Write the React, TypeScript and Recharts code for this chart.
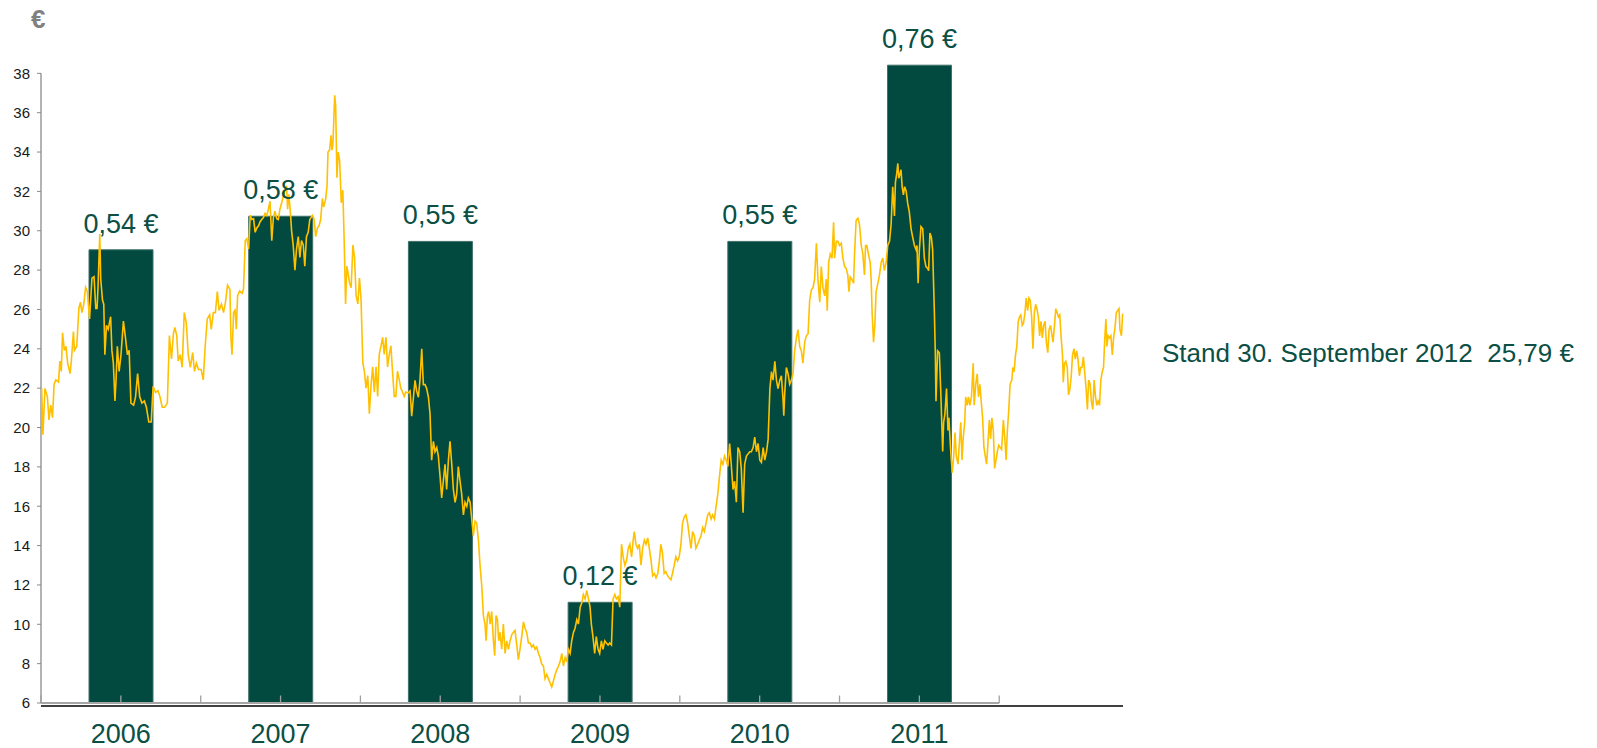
import React from "react";
import {
  ComposedChart,
  Bar,
  Line,
  XAxis,
  YAxis,
  ReferenceLine,
  LabelList,
} from "recharts";

// dividend per share, one bar per business year
const years = ["2006", "2007", "2008", "2009", "2010", "2011"];
const dividends = [0.54, 0.58, 0.55, 0.12, 0.55, 0.76];

const priceTicks = [6, 8, 10, 12, 14, 16, 18, 20, 22, 24, 26, 28, 30, 32, 34, 36, 38];

// share price [decimal year, €]
const price2006: [number, number][] = [
  [2006.004, 22.0], [2006.012, 19.64], [2006.025, 21.99], [2006.04, 21.56], [2006.05, 20.39],
  [2006.061, 21.14], [2006.072, 20.5], [2006.082, 22.2], [2006.093, 22.42], [2006.11, 22.31],
  [2006.118, 23.38], [2006.127, 22.85], [2006.135, 24.81], [2006.146, 23.92], [2006.156, 24.13],
  [2006.167, 23.27], [2006.182, 22.74], [2006.19, 23.38], [2006.203, 24.88], [2006.209, 23.92],
  [2006.224, 24.13], [2006.237, 26.05], [2006.247, 26.37], [2006.256, 25.84], [2006.268, 26.27],
  [2006.279, 27.12], [2006.29, 26.91], [2006.304, 25.52], [2006.319, 27.59], [2006.332, 27.66],
  [2006.343, 26.05], [2006.351, 26.05], [2006.357, 27.12], [2006.368, 29.84], [2006.374, 27.55],
  [2006.385, 26.48], [2006.393, 26.27], [2006.4, 23.7], [2006.41, 25.2], [2006.421, 24.99],
  [2006.436, 25.63], [2006.444, 23.92], [2006.453, 23.27], [2006.463, 21.35], [2006.47, 22.42],
  [2006.478, 24.13], [2006.489, 22.85], [2006.501, 23.7], [2006.516, 25.41], [2006.529, 24.56],
  [2006.541, 23.7], [2006.552, 23.92], [2006.563, 21.24], [2006.58, 21.14], [2006.592, 21.56],
  [2006.605, 22.74], [2006.618, 21.56], [2006.632, 21.24], [2006.647, 21.35], [2006.66, 21.03],
  [2006.675, 20.28], [2006.69, 20.28], [2006.702, 22.1], [2006.717, 21.78], [2006.732, 21.88],
  [2006.745, 21.56], [2006.759, 21.03], [2006.774, 21.03], [2006.791, 21.24], [2006.804, 24.67],
  [2006.817, 23.49], [2006.829, 24.77], [2006.838, 25.09], [2006.85, 24.67], [2006.859, 23.38],
  [2006.872, 23.7], [2006.884, 23.06], [2006.897, 25.84], [2006.91, 25.31], [2006.922, 23.7],
  [2006.935, 23.06], [2006.95, 23.81], [2006.961, 22.85], [2006.973, 23.27], [2006.986, 22.95],
];

const price2007: [number, number][] = [
  [2007.003, 22.95], [2007.016, 22.42], [2007.028, 24.13], [2007.041, 25.52], [2007.056, 25.73],
  [2007.066, 24.99], [2007.079, 25.84], [2007.092, 25.84], [2007.104, 26.91], [2007.115, 25.95],
  [2007.13, 26.27], [2007.143, 25.84], [2007.155, 26.37], [2007.168, 27.23], [2007.183, 27.02],
  [2007.189, 24.6], [2007.196, 23.7], [2007.206, 25.86], [2007.215, 25.97], [2007.223, 25.0],
  [2007.231, 26.7], [2007.244, 26.93], [2007.26, 26.82], [2007.268, 27.04], [2007.279, 29.5],
  [2007.289, 29.6], [2007.3, 29.07], [2007.31, 30.78], [2007.32, 30.57], [2007.331, 30.61],
  [2007.341, 29.92], [2007.351, 30.14], [2007.362, 30.25], [2007.372, 30.46], [2007.382, 30.57],
  [2007.393, 30.67], [2007.403, 30.89], [2007.414, 30.78], [2007.424, 31.1], [2007.434, 31.5],
  [2007.445, 29.5], [2007.455, 30.67], [2007.465, 31.0], [2007.476, 30.61], [2007.486, 30.57],
  [2007.496, 31.1], [2007.507, 31.42], [2007.517, 31.74], [2007.528, 32.06], [2007.538, 32.28],
  [2007.544, 31.1], [2007.552, 31.85], [2007.563, 30.78], [2007.569, 30.0], [2007.579, 29.28],
  [2007.59, 28.0], [2007.6, 29.07], [2007.611, 29.7], [2007.621, 28.64], [2007.631, 29.5],
  [2007.642, 29.28], [2007.652, 28.2], [2007.662, 29.7], [2007.673, 29.92], [2007.683, 30.57],
  [2007.7, 30.78], [2007.71, 30.57], [2007.72, 29.7], [2007.731, 30.14], [2007.741, 30.25],
  [2007.751, 30.57], [2007.762, 31.64], [2007.77, 31.21], [2007.783, 31.64], [2007.791, 32.28],
  [2007.797, 34.0], [2007.807, 34.1], [2007.816, 34.85], [2007.822, 34.1], [2007.828, 34.42],
  [2007.839, 36.88], [2007.845, 36.35], [2007.853, 32.7], [2007.861, 34.0], [2007.87, 33.56],
  [2007.88, 31.42], [2007.89, 32.06], [2007.899, 29.28], [2007.907, 26.28], [2007.915, 28.2],
  [2007.924, 27.77], [2007.932, 27.36], [2007.942, 27.1], [2007.953, 29.28], [2007.963, 28.64],
  [2007.973, 26.7], [2007.984, 26.28], [2007.994, 27.6],
];

const price2008: [number, number][] = [
  [2008.004, 26.5], [2008.015, 23.3], [2008.025, 22.86], [2008.035, 22.0], [2008.046, 22.64],
  [2008.056, 20.7], [2008.067, 22.2], [2008.077, 23.08], [2008.087, 21.8], [2008.098, 23.08],
  [2008.108, 21.58], [2008.118, 23.72], [2008.129, 24.15], [2008.139, 24.58], [2008.149, 23.72],
  [2008.16, 24.58], [2008.17, 23.08], [2008.181, 23.72], [2008.191, 24.15], [2008.201, 22.86],
  [2008.212, 21.58], [2008.222, 21.58], [2008.232, 22.86], [2008.243, 22.43], [2008.253, 22.0],
  [2008.264, 21.8], [2008.274, 21.58], [2008.284, 21.8], [2008.3, 21.76], [2008.311, 21.86],
  [2008.321, 20.58], [2008.332, 21.54], [2008.342, 22.4], [2008.352, 21.86], [2008.363, 21.54],
  [2008.373, 22.4], [2008.384, 24.0], [2008.394, 22.18], [2008.405, 22.18], [2008.415, 21.97],
  [2008.426, 21.54], [2008.436, 20.69], [2008.446, 18.34], [2008.457, 19.3], [2008.467, 18.77],
  [2008.478, 18.98], [2008.488, 18.55], [2008.499, 17.49], [2008.509, 16.42], [2008.519, 17.27],
  [2008.53, 18.13], [2008.54, 16.85], [2008.551, 18.34], [2008.561, 19.3], [2008.572, 18.13],
  [2008.582, 16.85], [2008.593, 16.2], [2008.603, 16.63], [2008.613, 18.02], [2008.624, 17.27],
  [2008.634, 16.63], [2008.645, 15.56], [2008.655, 16.2], [2008.666, 15.99], [2008.676, 16.42],
  [2008.687, 16.2], [2008.697, 15.35], [2008.707, 14.5], [2008.718, 15.25], [2008.728, 15.14],
  [2008.739, 14.28], [2008.749, 13.0], [2008.76, 11.94], [2008.77, 10.44], [2008.78, 10.01],
  [2008.787, 9.16], [2008.795, 10.44], [2008.803, 10.65], [2008.812, 10.01], [2008.822, 10.65],
  [2008.833, 9.16], [2008.841, 8.41], [2008.849, 10.44], [2008.858, 10.23], [2008.866, 9.16],
  [2008.874, 9.59], [2008.885, 8.73], [2008.895, 10.01], [2008.906, 8.52], [2008.916, 9.16],
  [2008.927, 8.73], [2008.937, 9.16], [2008.948, 9.48], [2008.958, 9.59], [2008.968, 9.69],
  [2008.979, 8.95], [2008.989, 8.2], [2008.999, 8.73],
];

const price2009: [number, number][] = [
  [2009.01, 9.37], [2009.021, 10.12], [2009.031, 9.8], [2009.041, 9.59], [2009.052, 9.05],
  [2009.062, 9.05], [2009.073, 8.84], [2009.083, 8.95], [2009.094, 8.73], [2009.104, 8.84],
  [2009.115, 8.52], [2009.125, 8.31], [2009.135, 7.99], [2009.146, 7.88], [2009.156, 7.24],
  [2009.167, 7.45], [2009.177, 7.24], [2009.188, 7.02], [2009.198, 6.81], [2009.209, 7.13],
  [2009.219, 7.45], [2009.229, 7.67], [2009.24, 7.88], [2009.25, 8.09], [2009.261, 8.52],
  [2009.271, 7.88], [2009.282, 8.31], [2009.292, 8.09], [2009.302, 8.73], [2009.313, 8.52],
  [2009.323, 9.16], [2009.334, 9.59], [2009.344, 9.8], [2009.355, 10.23], [2009.365, 10.01],
  [2009.376, 10.87], [2009.386, 11.08], [2009.396, 11.51], [2009.407, 11.29], [2009.417, 11.72],
  [2009.428, 11.29], [2009.438, 10.87], [2009.446, 10.01], [2009.456, 9.37], [2009.467, 8.52],
  [2009.477, 9.37], [2009.488, 8.73], [2009.498, 8.52], [2009.509, 9.16], [2009.519, 8.73],
  [2009.53, 9.16], [2009.54, 9.05], [2009.551, 8.95], [2009.561, 9.05], [2009.572, 8.95],
  [2009.582, 11.29], [2009.593, 11.51], [2009.603, 11.29], [2009.614, 11.4], [2009.624, 10.87],
  [2009.635, 14.07], [2009.645, 13.43], [2009.656, 13.0], [2009.666, 13.22], [2009.677, 13.86],
  [2009.687, 14.07], [2009.698, 13.43], [2009.708, 14.28], [2009.715, 14.71], [2009.725, 14.07],
  [2009.736, 13.86], [2009.746, 14.07], [2009.757, 13.0], [2009.767, 13.86], [2009.778, 14.28],
  [2009.788, 14.07], [2009.799, 14.39], [2009.809, 13.86], [2009.82, 13.22], [2009.83, 12.47],
  [2009.841, 12.58], [2009.851, 12.36], [2009.862, 12.58], [2009.872, 13.22], [2009.881, 14.07],
  [2009.891, 13.64], [2009.902, 12.58], [2009.912, 12.68], [2009.923, 12.47], [2009.933, 12.36],
  [2009.944, 12.26], [2009.954, 12.58], [2009.965, 13.0], [2009.975, 13.43], [2009.986, 13.22],
  [2009.996, 13.43],
];

const price2010: [number, number][] = [
  [2010.007, 14.07], [2010.017, 15.14], [2010.028, 15.46], [2010.038, 15.56], [2010.049, 15.14],
  [2010.059, 14.5], [2010.07, 13.86], [2010.08, 14.71], [2010.091, 14.5], [2010.101, 13.86],
  [2010.112, 14.07], [2010.122, 14.28], [2010.133, 14.5], [2010.143, 14.92], [2010.154, 14.71],
  [2010.164, 15.14], [2010.175, 15.56], [2010.185, 15.67], [2010.196, 15.35], [2010.206, 15.56],
  [2010.217, 15.35], [2010.227, 15.99], [2010.238, 16.63], [2010.248, 17.49], [2010.259, 18.34],
  [2010.27, 18.13], [2010.28, 18.55], [2010.291, 18.34], [2010.301, 18.02], [2010.312, 19.19],
  [2010.322, 18.13], [2010.333, 16.85], [2010.343, 17.27], [2010.354, 16.2], [2010.364, 18.98],
  [2010.375, 18.77], [2010.385, 17.91], [2010.396, 15.67], [2010.406, 18.13], [2010.417, 18.55],
  [2010.427, 18.66], [2010.438, 18.77], [2010.448, 18.77], [2010.459, 18.98], [2010.469, 19.51],
  [2010.48, 18.77], [2010.49, 19.19], [2010.501, 18.34], [2010.511, 18.23], [2010.522, 18.98],
  [2010.532, 18.34], [2010.543, 18.77], [2010.553, 19.41], [2010.564, 21.97], [2010.574, 22.84],
  [2010.584, 22.41], [2010.595, 23.37], [2010.605, 22.41], [2010.615, 21.98], [2010.626, 22.41],
  [2010.636, 22.63], [2010.647, 21.34], [2010.651, 20.6], [2010.657, 21.77], [2010.667, 23.05],
  [2010.678, 22.73], [2010.688, 22.2], [2010.699, 22.41], [2010.709, 22.73], [2010.719, 23.9],
  [2010.73, 24.55], [2010.74, 24.98], [2010.751, 24.12], [2010.761, 23.9], [2010.771, 23.27],
  [2010.782, 24.34], [2010.792, 24.66], [2010.803, 24.76], [2010.813, 26.47], [2010.824, 27.0],
  [2010.834, 27.11], [2010.844, 27.54], [2010.855, 29.36], [2010.865, 27.54], [2010.876, 26.37],
  [2010.886, 28.18], [2010.896, 27.11], [2010.907, 26.69], [2010.917, 27.54], [2010.923, 25.94],
  [2010.932, 28.4], [2010.942, 28.82], [2010.953, 28.61], [2010.963, 30.43], [2010.969, 28.61],
  [2010.98, 29.46], [2010.99, 29.46],
];

const price2011: [number, number][] = [
  [2011.0, 29.25], [2011.011, 29.36], [2011.021, 28.61], [2011.032, 28.18], [2011.042, 28.08],
  [2011.052, 27.75], [2011.059, 26.9], [2011.067, 27.65], [2011.077, 27.54], [2011.088, 27.33],
  [2011.094, 28.82], [2011.104, 30.53], [2011.115, 30.64], [2011.125, 30.32], [2011.136, 29.25],
  [2011.146, 28.82], [2011.156, 27.75], [2011.163, 29.25], [2011.171, 29.25], [2011.181, 28.82],
  [2011.192, 28.4], [2011.198, 27.54], [2011.204, 25.83], [2011.213, 24.34], [2011.221, 25.19],
  [2011.229, 26.9], [2011.24, 27.33], [2011.25, 27.75], [2011.261, 28.4], [2011.271, 28.61],
  [2011.281, 27.97], [2011.292, 28.4], [2011.302, 29.25], [2011.313, 29.46], [2011.323, 30.32],
  [2011.333, 32.24], [2011.344, 30.75], [2011.35, 32.46], [2011.358, 32.89], [2011.365, 33.42],
  [2011.371, 32.67], [2011.379, 32.89], [2011.385, 33.1], [2011.392, 32.24], [2011.4, 31.82],
  [2011.408, 32.24], [2011.417, 32.03], [2011.427, 31.39], [2011.437, 30.96], [2011.448, 30.1],
  [2011.458, 29.68], [2011.469, 29.25], [2011.479, 29.04], [2011.485, 29.25], [2011.492, 27.33],
  [2011.5, 29.04], [2011.51, 30.21], [2011.521, 30.1], [2011.531, 28.61], [2011.541, 28.18],
  [2011.552, 28.08], [2011.558, 27.97], [2011.566, 29.89], [2011.575, 29.68], [2011.583, 29.04],
  [2011.594, 25.83], [2011.6, 23.69], [2011.604, 21.34], [2011.614, 23.9], [2011.625, 23.8],
  [2011.635, 21.56], [2011.646, 18.78], [2011.652, 20.27], [2011.66, 20.7], [2011.67, 21.98],
  [2011.679, 19.85], [2011.685, 20.49], [2011.694, 19.1], [2011.7, 18.35], [2011.706, 17.71],
  [2011.715, 18.57], [2011.723, 19.74], [2011.731, 18.57], [2011.742, 18.14], [2011.752, 19.42],
  [2011.759, 20.27], [2011.767, 18.35], [2011.774, 19.42], [2011.784, 20.27], [2011.79, 21.56],
  [2011.799, 21.13], [2011.807, 21.56], [2011.816, 21.13], [2011.826, 21.56], [2011.837, 23.27],
  [2011.843, 21.13], [2011.853, 22.2], [2011.862, 22.73], [2011.87, 21.56], [2011.879, 22.2],
  [2011.889, 21.13], [2011.896, 20.49], [2011.904, 19.0], [2011.912, 18.57], [2011.921, 18.14],
  [2011.931, 19.42], [2011.938, 20.38], [2011.946, 19.42], [2011.954, 20.49], [2011.963, 19.85],
  [2011.971, 17.92], [2011.98, 18.35], [2011.988, 18.78], [2011.997, 19.1],
];

const price2012: [number, number][] = [
  [2012.005, 19.0], [2012.015, 18.89], [2012.026, 20.38], [2012.037, 19.2], [2012.043, 18.35],
  [2012.051, 19.85], [2012.06, 20.92], [2012.068, 22.2], [2012.079, 22.41], [2012.085, 23.05],
  [2012.093, 22.84], [2012.102, 23.69], [2012.11, 24.12], [2012.119, 25.4], [2012.127, 25.62],
  [2012.135, 25.72], [2012.144, 25.19], [2012.152, 25.3], [2012.161, 25.83], [2012.169, 26.58],
  [2012.178, 25.94], [2012.186, 26.58], [2012.194, 26.47], [2012.203, 25.62], [2012.211, 24.01],
  [2012.22, 25.83], [2012.228, 26.26], [2012.236, 26.04], [2012.245, 25.62], [2012.253, 24.66],
  [2012.262, 25.4], [2012.27, 24.55], [2012.278, 25.19], [2012.287, 25.4], [2012.295, 24.34],
  [2012.304, 23.8], [2012.312, 24.98], [2012.321, 25.19], [2012.329, 24.76], [2012.337, 24.34],
  [2012.346, 25.19], [2012.354, 26.04], [2012.363, 25.83], [2012.371, 25.62], [2012.379, 25.72],
  [2012.388, 24.55], [2012.396, 23.69], [2012.401, 22.3], [2012.409, 23.27], [2012.417, 23.37],
  [2012.426, 23.05], [2012.434, 21.66], [2012.443, 21.98], [2012.451, 22.63], [2012.459, 23.69],
  [2012.468, 24.01], [2012.476, 23.48], [2012.485, 23.9], [2012.493, 23.48], [2012.502, 22.63],
  [2012.51, 23.05], [2012.518, 23.05], [2012.527, 23.59], [2012.535, 22.84], [2012.544, 21.98],
  [2012.552, 20.92], [2012.56, 22.41], [2012.569, 22.2], [2012.577, 21.34], [2012.586, 20.92],
  [2012.594, 22.41], [2012.603, 21.56], [2012.611, 21.13], [2012.619, 21.34], [2012.628, 21.13],
  [2012.636, 22.41], [2012.645, 22.84], [2012.653, 23.05], [2012.661, 24.55], [2012.668, 25.51],
  [2012.674, 24.12], [2012.682, 24.66], [2012.691, 24.55], [2012.699, 24.66], [2012.708, 23.69],
  [2012.716, 24.55], [2012.725, 25.08], [2012.733, 25.83], [2012.741, 25.94], [2012.75, 26.04],
  [2012.756, 24.98], [2012.765, 24.66], [2012.773, 25.79],
];

const standText = "Stand 30. September 2012  25,79 €";

const GREEN = "#0b4f45";
const BAR = "#024a40";
const GOLD = "#ffc000";
const X_DOMAIN: [number, number] = [2006, 2012.775];

const barData = years.map((y, i) => ({ x: Number(y) + 0.5, year: y, div: dividends[i] }));

const lineData = [
  ...price2006,
  ...price2007,
  ...price2008,
  ...price2009,
  ...price2010,
  ...price2011,
  ...price2012,
].map(([t, price]) => ({ t, price }));

// small marks along the lower axis: year boundaries and year centres
const axisMarks = [
  ...years.flatMap((y) => [Number(y), Number(y) + 0.5]),
  Number(years[years.length - 1]) + 1,
];

const euro = (v: number) => v.toFixed(2).replace(".", ",") + " €";

export default function App() {
  return (
    <div
      style={{
        position: "relative",
        width: 1581,
        height: 740,
        fontFamily: '"Liberation Sans", Arial, sans-serif',
      }}
    >
      <div
        style={{
          position: "absolute",
          left: 23,
          top: -2,
          fontSize: 26,
          lineHeight: "26px",
          fontWeight: "bold",
          color: "#808080",
        }}
      >
        €
      </div>

      <ComposedChart
        width={1581}
        height={740}
        data={barData}
        margin={{ top: 55.5, right: 466, bottom: 0, left: 0 }}
      >
        <XAxis
          xAxisId="time"
          dataKey="t"
          type="number"
          domain={X_DOMAIN}
          height={3}
          axisLine={false}
          tickLine={false}
          tick={false}
        />
        <XAxis
          xAxisId="years"
          dataKey="x"
          type="number"
          domain={X_DOMAIN}
          ticks={barData.map((d) => d.x)}
          interval={0}
          tickFormatter={(v) => barData.find((d) => d.x === v)?.year ?? ""}
          axisLine={{ stroke: "#000", strokeWidth: 1.5 }}
          tickLine={false}
          tickSize={0}
          tickMargin={18}
          height={42}
          tick={{ fontSize: 27, fill: GREEN }}
        />
        <YAxis
          yAxisId="price"
          orientation="left"
          type="number"
          domain={[6, 38.5]}
          ticks={priceTicks}
          interval={0}
          width={33}
          axisLine={false}
          tickLine={{ stroke: "#8a8a8a" }}
          tickSize={4}
          tickMargin={7}
          tick={{ fontSize: 15, fill: "#1a1a1a" }}
        />
        <YAxis yAxisId="div" orientation="right" type="number" domain={[0, 0.762]} hide />

        <Bar
          xAxisId="years"
          yAxisId="div"
          dataKey="div"
          barSize={64}
          fill={BAR}
          stroke="#3f716a"
          strokeWidth={1}
          isAnimationActive={false}
        >
          <LabelList
            dataKey="div"
            position="top"
            offset={17}
            formatter={(v: any) => euro(Number(v))}
            fill={GREEN}
            fontSize={27}
          />
        </Bar>

        <ReferenceLine
          xAxisId="time"
          yAxisId="price"
          ifOverflow="visible"
          segment={[
            { x: X_DOMAIN[0], y: 6 },
            { x: X_DOMAIN[0], y: 38 },
          ]}
          stroke="#8a8a8a"
          strokeWidth={1.3}
        />
        <ReferenceLine
          xAxisId="time"
          yAxisId="price"
          ifOverflow="visible"
          segment={[
            { x: axisMarks[0], y: 6 },
            { x: axisMarks[axisMarks.length - 1], y: 6 },
          ]}
          stroke="#a6a6a6"
          strokeWidth={2}
        />
        {axisMarks.map((m) => (
          <ReferenceLine
            key={m}
            xAxisId="time"
            yAxisId="price"
            ifOverflow="visible"
            segment={[
              { x: m, y: 6 },
              { x: m, y: 6.38 },
            ]}
            stroke="#a0a0a0"
            strokeWidth={1.3}
          />
        ))}

        <Line
          xAxisId="time"
          yAxisId="price"
          data={lineData}
          dataKey="price"
          type="linear"
          stroke={GOLD}
          strokeWidth={1.6}
          dot={false}
          activeDot={false}
          isAnimationActive={false}
        />
      </ComposedChart>

      <div
        style={{
          position: "absolute",
          left: 1154,
          top: 332,
          fontSize: 26,
          lineHeight: "26px",
          color: GREEN,
          whiteSpace: "pre",
        }}
      >
        {standText}
      </div>
    </div>
  );
}
